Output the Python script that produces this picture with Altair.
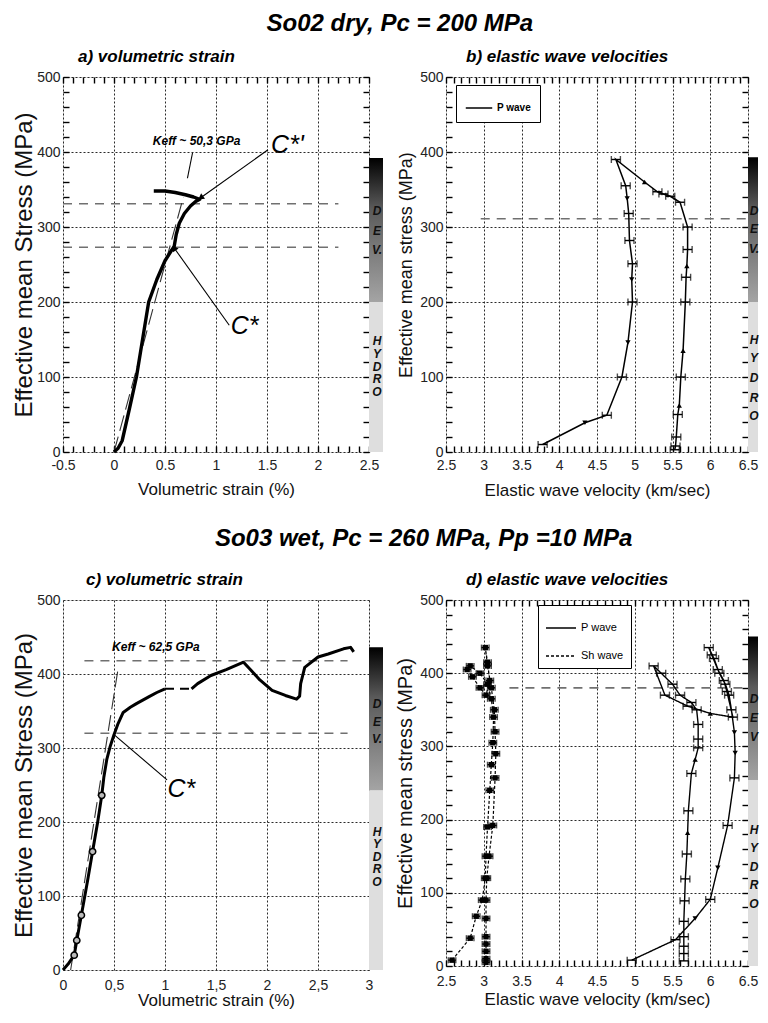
import math
import altair as alt
import pandas as pd

FONT = "Liberation Sans"

# ======================= DATA =======================
# a) So02 dry : volumetric strain (%) vs effective mean stress (MPa)
a_strain = [0.00, 0.04, 0.08, 0.15, 0.22, 0.28, 0.34, 0.42, 0.50, 0.56, 0.59, 0.61, 0.64, 0.69, 0.75, 0.80, 0.84, 0.78, 0.70, 0.60, 0.50, 0.39]
a_stress = [0, 5, 15, 57, 100, 150, 200, 230, 255, 268, 274, 290, 305, 318, 328, 334, 337, 340, 343, 346, 348, 348]
a_keff_strain = [0.00, 0.68]
a_keff_stress = [0, 340]
a_level_stress = [331, 273]
a_level_from = [-0.5, -0.5]
a_level_to = [2.2, 2.2]
a_ptr_x0, a_ptr_y0, a_ptr_x1, a_ptr_y1 = [0.77], [399], [0.72], [365]
a_arrow_x0 = [1.51, 1.13]
a_arrow_y0 = [403, 169]
a_arrow_x1 = [0.85, 0.59]
a_arrow_y1 = [339, 272]
a_small_text, a_small_x, a_small_y = ["Keff ~ 50,3 GPa"], [0.81], [415]
a_big_text, a_big_x, a_big_y = ["C*'", "C*"], [1.70, 1.28], [410, 168]
a_dev = [392, 200]
a_dev_letters, a_dev_pos = ["D", "E", "V."], [321, 295, 269]
a_hyd_letters, a_hyd_pos = ["H", "Y", "D", "R", "O"], [148, 131, 114, 97, 80]

# b) So02 dry : P wave velocity (km/s) vs effective mean stress (MPa)
b_vel = [5.53, 5.54, 5.55, 5.57, 5.59, 5.61, 5.64, 5.67, 5.68, 5.69, 5.70, 5.70, 5.60, 5.47, 5.38,
         5.30, 5.13, 4.75, 4.88, 4.90, 4.92, 4.93, 4.97, 4.96, 4.97, 4.91, 4.83, 4.63, 4.34, 3.78]
b_stress = [3, 8, 20, 50, 62, 100, 135, 200, 233, 248, 270, 300, 333, 341, 344,
            347, 360, 390, 355, 338, 318, 282, 251, 230, 200, 146, 100, 49, 39, 10]
b_mark = ["e", "e", "e", "e", "tu", "e", "tu", "e", "e", "tu", "e", "e", "e", "e", "e",
          "e", "tu", "e", "e", "td", "e", "e", "e", "td", "e", "td", "e", "e", "td", "e"]
b_level_stress, b_level_from, b_level_to = [311], [2.96], [6.5]
b_dev = [393, 200]
b_dev_letters, b_dev_pos = ["D", "E", "V."], [322, 298, 271]
b_hyd_letters, b_hyd_pos = ["H", "Y", "D", "R", "O"], [150, 126, 99, 72, 48]

# c) So03 wet : volumetric strain
c_strain = [0.00, 0.05, 0.11, 0.135, 0.18, 0.24, 0.29, 0.34, 0.38, 0.40, 0.43, 0.46, 0.50, 0.54, 0.59, 0.66, 0.72, 0.84, 0.92, 1.00]
c_stress = [0, 8, 20, 40, 74, 120, 160, 200, 236, 260, 285, 301, 318, 333, 348, 355, 360, 369, 375, 380]
c2_strain = [1.26, 1.32, 1.45, 1.60, 1.77, 1.85, 1.93, 2.05, 2.18, 2.29, 2.32, 2.33, 2.37, 2.50, 2.60, 2.75, 2.82, 2.85]
c2_stress = [380, 387, 398, 406, 416, 404, 392, 378, 371, 366, 370, 387, 409, 423, 427, 434, 436, 430]
c_circ_strain = [0.11, 0.135, 0.18, 0.29, 0.38]
c_circ_stress = [20, 40, 74, 160, 236]
c_gap_strain, c_gap_stress = [1.00, 1.26], [380, 380]
c_keff_strain, c_keff_stress = [0.075, 0.54], [0, 407]
c_level_stress = [418, 320]
c_level_from = [0.21, 0.21]
c_level_to = [2.79, 2.79]
c_arrow_x0, c_arrow_y0, c_arrow_x1, c_arrow_y1 = [1.02], [257], [0.50], [318]
c_small_text, c_small_x, c_small_y = ["Keff ~ 62,5 GPa"], [0.91], [436]
c_big_text, c_big_x, c_big_y = ["C*"], [1.16], [245]
c_dev = [436, 243]
c_dev_letters, c_dev_pos = ["D", "E", "V."], [359, 335, 312]
c_hyd_letters, c_hyd_pos = ["H", "Y", "D", "R", "O"], [187, 170, 153, 136, 119]

# d) So03 wet : P and Sh wave velocities
d_p_vel = [4.96, 5.54, 5.80, 6.00, 6.10, 6.23, 6.32, 6.33, 6.32, 6.28, 6.25, 6.20, 6.12, 6.05, 5.98,
           6.02, 6.10, 6.18, 6.22, 6.30, 6.00, 5.70, 5.40, 5.25, 5.35, 5.50, 5.60, 5.75, 5.82, 5.84,
           5.84, 5.84, 5.80, 5.75, 5.71, 5.70, 5.69, 5.67, 5.66, 5.65, 5.65, 5.65, 5.65, 5.65]
d_p_stress = [8, 36, 65, 91, 134, 192, 257, 291, 319, 350, 370, 385, 400, 420, 435,
              425, 405, 390, 375, 340, 345, 355, 370, 410, 400, 385, 370, 360, 350, 330,
              310, 298, 282, 263, 212, 182, 153, 119, 89, 61, 40, 27, 17, 7]
d_p_mark = ["e", "e", "td", "e", "td", "e", "e", "td", "td", "e", "e", "e", "e", "e", "e",
            "e", "e", "e", "e", "e", "tu", "e", "e", "e", "e", "e", "e", "e", "e", "e",
            "e", "e", "tu", "e", "e", "tu", "e", "e", "e", "e", "e", "e", "e", "e"]
d_s_vel = [2.58, 2.82, 2.90, 2.98, 3.02, 3.03, 3.05, 3.08, 3.10, 3.12, 3.13, 3.10, 3.05, 2.95, 2.82,
           2.78, 2.85, 2.95, 3.03, 3.08, 3.05, 3.02, 3.05, 3.10, 3.14, 3.15, 3.16, 3.15, 3.12, 3.07,
           3.04, 3.03, 3.03, 3.03, 3.03, 3.03, 3.03, 3.03]
d_s_stress = [8, 38, 68, 90, 120, 150, 190, 240, 275, 305, 340, 365, 385, 400, 410,
              405, 395, 380, 370, 390, 415, 435, 410, 380, 350, 320, 290, 257, 192, 150,
              120, 90, 65, 40, 30, 20, 10, 5]
d_level_stress, d_level_from, d_level_to = [380], [3.34], [6.5]
d_dev = [450, 254]
d_dev_letters, d_dev_pos = ["D", "E", "V"], [365, 339, 313]
d_hyd_letters, d_hyd_pos = ["H", "Y", "D", "R", "O"], [186, 161, 135, 111, 85]

STRESS_MAJOR = [0, 100, 200, 300, 400, 500]
A_X_MAJOR = [-0.5, 0, 0.5, 1, 1.5, 2, 2.5]
C_X_MAJOR = [0, 0.5, 1, 1.5, 2, 2.5, 3]
V_X_MAJOR = [2.5, 3, 3.5, 4, 4.5, 5, 5.5, 6, 6.5]


# ======================= HELPERS =======================
def sc(dom):
    return alt.Scale(domain=dom, nice=False, zero=False)


def steps(lo, hi, step):
    n = int(round((hi - lo) / step))
    return [round(lo + i * step, 3) for i in range(n + 1)]


def axis_layers(xdom, ydom, xmajor, xtitle, ytitle, xts, yts, xlp, xtp, ylp, ytp,
                minor=True, xminor_step=0.1, xexpr="'' + datum.value"):
    d = pd.DataFrame({"x": [xdom[0]], "y": [ydom[0]]})
    base = dict(grid=True, gridDash=[2, 2], gridColor="#2a2a2a", gridWidth=1,
                ticks=False, domain=False, labelFont=FONT, labelFontSize=14,
                labelColor="#222222", labelFlush=False, labelOverlap=False,
                titleFont=FONT, titleFontWeight="normal", titleColor="#111111")
    xkw = dict(base, orient="bottom", values=xmajor, title=xtitle, titleFontSize=xts,
               labelPadding=xlp, titlePadding=xtp, labelExpr=xexpr)
    ykw = dict(base, orient="left", values=STRESS_MAJOR, title=ytitle, titleFontSize=yts,
               labelPadding=ylp, titlePadding=ytp)
    layers = [alt.Chart(d).mark_point(opacity=0).encode(
        x=alt.X("x:Q", scale=sc(xdom), axis=alt.Axis(**xkw)),
        y=alt.Y("y:Q", scale=sc(ydom), axis=alt.Axis(**ykw)))]
    if minor:
        tk = dict(labels=False, domain=False, grid=False, title=None, tickSize=6,
                  offset=-6, tickColor="black", tickWidth=1.4)
        xminor = steps(xdom[0], xdom[1], xminor_step)
        yminor = steps(ydom[0], ydom[1], 20)
        for xo, yo in (("bottom", "left"), ("top", "right")):
            layers.append(alt.Chart(d).mark_point(opacity=0).encode(
                x=alt.X("x:Q", scale=sc(xdom), axis=alt.Axis(orient=xo, values=xminor, **tk)),
                y=alt.Y("y:Q", scale=sc(ydom), axis=alt.Axis(orient=yo, values=yminor, **tk))))
    return layers


def side_bar(W, bw, ydom, dev, dl, dp, hl, hp):
    grad = alt.LinearGradient(
        gradient="linear", x1=0, x2=0, y1=0, y2=1,
        stops=[alt.GradientStop(color="#000000", offset=0),
               alt.GradientStop(color="#5a5a5a", offset=0.35),
               alt.GradientStop(color="#a4a4a4", offset=1)])
    devl = alt.Chart(pd.DataFrame({"t": [dev[0]], "b": [dev[1]]})).mark_rect(color=grad).encode(
        x=alt.value(W), x2=alt.value(W + bw),
        y=alt.Y("t:Q", scale=sc(ydom), axis=None), y2="b:Q")
    hydl = alt.Chart(pd.DataFrame({"t": [dev[1]], "b": [ydom[0]]})).mark_rect(color="#dedede").encode(
        x=alt.value(W), x2=alt.value(W + bw),
        y=alt.Y("t:Q", scale=sc(ydom), axis=None), y2="b:Q")
    txt = alt.Chart(pd.DataFrame({"l": dl + hl, "s": dp + hp})).mark_text(
        font=FONT, fontSize=12, fontWeight="bold", fontStyle="italic", color="#111111").encode(
        x=alt.value(W + bw / 2 + 1), y=alt.Y("s:Q", scale=sc(ydom), axis=None), text="l:N")
    return [hydl, devl, txt]


def levels(xdom, ydom, s, x0, x1):
    return alt.Chart(pd.DataFrame({"s": s, "x0": x0, "x1": x1})).mark_rule(
        color="#707070", strokeWidth=1.6, strokeDash=[9, 7]).encode(
        x=alt.X("x0:Q", scale=sc(xdom), axis=None), x2="x1:Q",
        y=alt.Y("s:Q", scale=sc(ydom), axis=None))


def path(xdom, ydom, xs, ys, **mk):
    df = pd.DataFrame({"x": xs, "y": ys, "i": list(range(len(xs)))})
    return alt.Chart(df).mark_line(**mk).encode(
        x=alt.X("x:Q", scale=sc(xdom), axis=None),
        y=alt.Y("y:Q", scale=sc(ydom), axis=None), order="i:Q")


def segments(xdom, ydom, x0, y0, x1, y1, heads, kx, ky):
    df = pd.DataFrame({"x0": x0, "y0": y0, "x1": x1, "y1": y1})
    out = [alt.Chart(df).mark_rule(color="black", strokeWidth=1.1).encode(
        x=alt.X("x0:Q", scale=sc(xdom), axis=None), x2="x1:Q",
        y=alt.Y("y0:Q", scale=sc(ydom), axis=None), y2="y1:Q")]
    if heads:
        df["ang"] = [math.degrees(math.atan2((b - a) * kx, (d - c) * ky)) % 360
                     for a, b, c, d in zip(x0, x1, y0, y1)]
        out.append(alt.Chart(df).mark_point(shape="triangle-up", filled=True, color="black",
                                            size=45, opacity=1).encode(
            x=alt.X("x1:Q", scale=sc(xdom), axis=None),
            y=alt.Y("y1:Q", scale=sc(ydom), axis=None),
            angle=alt.Angle("ang:Q", scale=None)))
    return out


def texts(xdom, ydom, t, x, y, size, weight="normal"):
    return alt.Chart(pd.DataFrame({"t": t, "x": x, "y": y})).mark_text(
        font=FONT, fontSize=size, fontStyle="italic", fontWeight=weight, color="black").encode(
        x=alt.X("x:Q", scale=sc(xdom), axis=None),
        y=alt.Y("y:Q", scale=sc(ydom), axis=None), text="t:N")


def markers(xdom, ydom, v, s, mk, half=0.06, cap=7, square=False):
    df = pd.DataFrame({"v": v, "s": s, "mk": mk})
    de = df[df.mk == "e"].copy()
    de["lo"] = de.v - half
    de["hi"] = de.v + half
    dt = df[df.mk.isin(["tu", "td"])].copy()
    dt["shape"] = dt.mk.map({"tu": "triangle-up", "td": "triangle-down"})
    yy = alt.Y("s:Q", scale=sc(ydom), axis=None)
    out = [
        alt.Chart(de).mark_rule(color="black", strokeWidth=1.4).encode(
            x=alt.X("lo:Q", scale=sc(xdom), axis=None), x2="hi:Q", y=yy),
        alt.Chart(de).mark_tick(color="black", orient="vertical", size=cap, thickness=1.4).encode(
            x=alt.X("lo:Q", scale=sc(xdom), axis=None), y=yy),
        alt.Chart(de).mark_tick(color="black", orient="vertical", size=cap, thickness=1.4).encode(
            x=alt.X("hi:Q", scale=sc(xdom), axis=None), y=yy),
    ]
    if len(dt):
        out.append(alt.Chart(dt).mark_point(filled=True, color="black", size=28, opacity=1).encode(
            x=alt.X("v:Q", scale=sc(xdom), axis=None), y=yy,
            shape=alt.Shape("shape:N", scale=None)))
    if square:
        out.append(alt.Chart(df).mark_square(color="black", size=30, opacity=1).encode(
            x=alt.X("v:Q", scale=sc(xdom), axis=None), y=yy))
    return out


def sub_title(text, dx, offset=4):
    return alt.TitleParams(text=text, anchor="start", frame="group", dx=dx, offset=offset, font=FONT,
                           fontSize=17, fontWeight="bold", fontStyle="italic", color="black")


YDOM = [0, 500]

# ======================= PANEL a =======================
Wa, Ha = 306, 375
xa = [-0.5, 2.5]
la = axis_layers(xa, YDOM, A_X_MAJOR, "Volumetric strain (%)", "Effective mean Stress (MPa)",
                 17, 24, 6, 9, 3, 0)
la += side_bar(Wa, 14, YDOM, a_dev, a_dev_letters, a_dev_pos, a_hyd_letters, a_hyd_pos)
la.append(levels(xa, YDOM, a_level_stress, a_level_from, a_level_to))
la.append(path(xa, YDOM, a_keff_strain, a_keff_stress, color="#333333", strokeWidth=1.1, strokeDash=[16, 6]))
la.append(path(xa, YDOM, a_strain, a_stress, color="black", strokeWidth=3.4, strokeJoin="round"))
la += segments(xa, YDOM, a_ptr_x0, a_ptr_y0, a_ptr_x1, a_ptr_y1, False, Wa / 3, Ha / 500)
la += segments(xa, YDOM, a_arrow_x0, a_arrow_y0, a_arrow_x1, a_arrow_y1, True, Wa / 3, Ha / 500)
la.append(texts(xa, YDOM, a_small_text, a_small_x, a_small_y, 12, "bold"))
la.append(texts(xa, YDOM, a_big_text, a_big_x, a_big_y, 25))
pa = alt.layer(*la).properties(width=Wa, height=Ha, title=sub_title("a) volumetric strain", 15)).resolve_axis(
    x="independent", y="independent")

# ======================= PANEL b =======================
Wb, Hb = 302, 375
xb = [2.5, 6.5]
lb = axis_layers(xb, YDOM, V_X_MAJOR, "Elastic wave velocity (km/sec)", "Effective mean stress (MPa)",
                 17, 18, 6, 10, 3, 4)
lb += side_bar(Wb, 10, YDOM, b_dev, b_dev_letters, b_dev_pos, b_hyd_letters, b_hyd_pos)
lb.append(levels(xb, YDOM, b_level_stress, b_level_from, b_level_to))
df_b = pd.DataFrame({"x": b_vel, "y": b_stress, "i": list(range(len(b_vel))), "series": "P wave"})
lb.append(alt.Chart(df_b).mark_line(strokeWidth=1.5).encode(
    x=alt.X("x:Q", scale=sc(xb), axis=None), y=alt.Y("y:Q", scale=sc(YDOM), axis=None), order="i:Q",
    color=alt.Color("series:N", scale=alt.Scale(domain=["P wave"], range=["black"]),
                    legend=alt.Legend(orient="none", legendX=10, legendY=8, title=None,
                                      fillColor="white", strokeColor="black", padding=9,
                                      symbolType="stroke", symbolSize=700, symbolStrokeWidth=1.5,
                                      labelFont=FONT, labelFontSize=10, labelFontWeight="bold",
                                      labelColor="black"))))
lb += markers(xb, YDOM, b_vel, b_stress, b_mark)
pb = alt.layer(*lb).properties(width=Wb, height=Hb, title=sub_title("b) elastic wave velocities", 20)).resolve_axis(
    x="independent", y="independent")

# ======================= PANEL c =======================
Wc, Hc = 306, 370
xc = [0, 3]
lc = axis_layers(xc, YDOM, C_X_MAJOR, "Volumetric strain (%)", "Effective mean Stress (MPa)",
                 17, 24, 8, 0, 3, 0, minor=False, xexpr="replace('' + datum.value, '.', ',')")
lc += side_bar(Wc, 14, YDOM, c_dev, c_dev_letters, c_dev_pos, c_hyd_letters, c_hyd_pos)
lc.append(levels(xc, YDOM, c_level_stress, c_level_from, c_level_to))
lc.append(path(xc, YDOM, c_keff_strain, c_keff_stress, color="#333333", strokeWidth=1.1, strokeDash=[16, 6]))
lc.append(path(xc, YDOM, c_gap_strain, c_gap_stress, color="black", strokeWidth=2, strokeDash=[9, 6]))
lc.append(path(xc, YDOM, c_strain, c_stress, color="black", strokeWidth=3, strokeJoin="round"))
lc.append(path(xc, YDOM, c2_strain, c2_stress, color="black", strokeWidth=3, strokeJoin="round"))
lc.append(alt.Chart(pd.DataFrame({"x": c_circ_strain, "y": c_circ_stress})).mark_point(
    shape="circle", size=40, color="black", strokeWidth=1.5, fill="#bbbbbb", filled=False, opacity=1).encode(
    x=alt.X("x:Q", scale=sc(xc), axis=None), y=alt.Y("y:Q", scale=sc(YDOM), axis=None)))
lc += segments(xc, YDOM, c_arrow_x0, c_arrow_y0, c_arrow_x1, c_arrow_y1, False, Wc / 3, Hc / 500)
lc.append(texts(xc, YDOM, c_small_text, c_small_x, c_small_y, 12, "bold"))
lc.append(texts(xc, YDOM, c_big_text, c_big_x, c_big_y, 25))
pc = alt.layer(*lc).properties(width=Wc, height=Hc, title=sub_title("c) volumetric strain", 23)).resolve_axis(
    x="independent", y="independent")

# ======================= PANEL d =======================
Wd, Hd = 302, 366
xd = [2.5, 6.5]
ld = axis_layers(xd, YDOM, V_X_MAJOR, "Elastic wave velocity (km/sec)", "Effective mean stress (MPa)",
                 17, 20, 8, 3, 3, 4)
ld += side_bar(Wd, 10, YDOM, d_dev, d_dev_letters, d_dev_pos, d_hyd_letters, d_hyd_pos)
ld.append(levels(xd, YDOM, d_level_stress, d_level_from, d_level_to))
dash_scale = alt.Scale(domain=["P wave", "Sh wave"], range=[[1, 0], [3, 2]])
dash_legend = alt.Legend(orient="none", legendX=92, legendY=5, title=None, fillColor="white",
                         strokeColor="black", padding=7, rowPadding=7, symbolType="stroke",
                         symbolSize=900, symbolStrokeWidth=1.3, symbolStrokeColor="black",
                         labelFont=FONT, labelFontSize=11, labelColor="black")
df_dp = pd.DataFrame({"x": d_p_vel, "y": d_p_stress, "i": list(range(len(d_p_vel))), "series": "P wave"})
df_ds = pd.DataFrame({"x": d_s_vel, "y": d_s_stress, "i": list(range(len(d_s_vel))), "series": "Sh wave"})
for dfx, w in ((df_ds, 1.2), (df_dp, 1.4)):
    ld.append(alt.Chart(dfx).mark_line(color="black", strokeWidth=w).encode(
        x=alt.X("x:Q", scale=sc(xd), axis=None), y=alt.Y("y:Q", scale=sc(YDOM), axis=None), order="i:Q",
        strokeDash=alt.StrokeDash("series:N", scale=dash_scale, legend=dash_legend)))
ld += markers(xd, YDOM, d_s_vel, d_s_stress, ["e"] * len(d_s_vel), half=0.05, cap=6, square=True)
ld += markers(xd, YDOM, d_p_vel, d_p_stress, d_p_mark, half=0.06, cap=7)
pd_ = alt.layer(*ld).properties(width=Wd, height=Hd,
                                title=sub_title("d) elastic wave velocities", 20)).resolve_axis(
    x="independent", y="independent")

# ======================= LAYOUT =======================
def row_title(t, dx, offset):
    return alt.TitleParams(text=t, anchor="middle", dx=dx, offset=offset, font=FONT, fontSize=24,
                           fontWeight="bold", fontStyle="italic", color="black")

row1 = alt.hconcat(pa, pb, spacing=13).properties(
    title=row_title("So02 dry, Pc = 200 MPa", 14, 12)).resolve_scale(
    color="independent", strokeDash="independent")
row2 = alt.hconcat(pc, pd_, spacing=11).properties(
    title=row_title("So03 wet, Pc = 260 MPa, Pp =10 MPa", 38, 20)).resolve_scale(
    color="independent", strokeDash="independent")

chart = alt.vconcat(row1, row2, spacing=27).resolve_scale(
    color="independent", strokeDash="independent").properties(
    padding={"left": 4, "top": 3, "right": 0, "bottom": 0}).configure_view(
    stroke="black", strokeWidth=1.5).configure(background="white")

chart.save("out.html", embed_options={"renderer": "svg", "actions": False})
